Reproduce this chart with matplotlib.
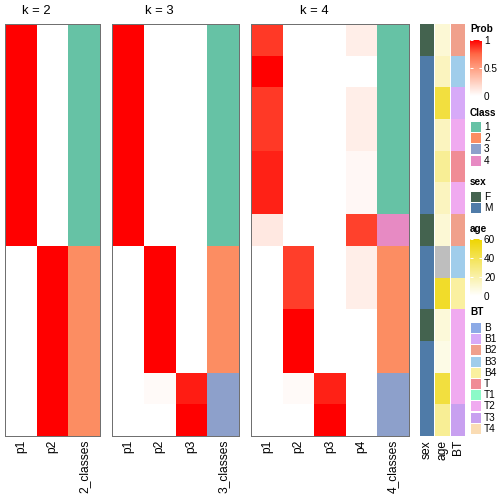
import matplotlib
matplotlib.use("Agg")
import matplotlib.pyplot as plt
import numpy as np
from matplotlib.colors import LinearSegmentedColormap, ListedColormap
from matplotlib.patches import Rectangle
from matplotlib.cm import ScalarMappable
from matplotlib.colors import Normalize

plt.rcParams['font.family'] = ['Liberation Sans', 'DejaVu Sans']

# membership probabilities per k (13 samples, top to bottom)
k2_p1 = [1, 1, 1, 1, 1, 1, 1, 0, 0, 0, 0, 0, 0]
k2_p2 = [0, 0, 0, 0, 0, 0, 0, 1, 1, 1, 1, 1, 1]
k2_class = [1, 1, 1, 1, 1, 1, 1, 2, 2, 2, 2, 2, 2]

k3_p1 = [1, 1, 1, 1, 1, 1, 1, 0, 0, 0, 0, 0, 0]
k3_p2 = [0, 0, 0, 0, 0, 0, 0, 1, 1, 1, 1, 0.03, 0]
k3_p3 = [0, 0, 0, 0, 0, 0, 0, 0, 0, 0, 0, 0.93, 1]
k3_class = [1, 1, 1, 1, 1, 1, 1, 2, 2, 2, 2, 3, 3]

k4_p1 = [0.86, 1, 0.86, 0.86, 0.92, 0.92, 0.12, 0, 0, 0, 0, 0, 0]
k4_p2 = [0, 0, 0, 0, 0, 0, 0, 0.85, 0.85, 1, 1, 0.03, 0]
k4_p3 = [0, 0, 0, 0, 0, 0, 0, 0, 0, 0, 0, 0.92, 1]
k4_p4 = [0.09, 0, 0.09, 0.09, 0.04, 0.04, 0.84, 0.09, 0.09, 0, 0, 0, 0]
k4_class = [1, 1, 1, 1, 1, 1, 4, 2, 2, 2, 2, 3, 3]

# sample annotations
sex = ['F', 'M', 'M', 'M', 'M', 'M', 'F', 'M', 'M', 'F', 'M', 'M', 'M']
age = [10, 15, 45, 15, 25, 15, 10, np.nan, 50, 9, 6, 45, 25]
bt = ['B2', 'B3', 'B1', 'T2', 'T', 'T2', 'B2', 'B3', 'B4', 'T2', 'T2', 'T2', 'T3']

sex_levels = ['F', 'M']
sex_colors = ['#44634F', '#4F7BA8']
bt_levels = ['B', 'B1', 'B2', 'B3', 'B4', 'T', 'T1', 'T2', 'T3', 'T4']
bt_colors = ['#8CAAE6', '#D7AAF8', '#F0A08C', '#A0CDEB', '#FAF0A0',
             '#F08C96', '#8CFAC8', '#F0AAF0', '#C8A0F0', '#FADCB4']
class_colors = ['#66C2A5', '#FC8D62', '#8DA0CB', '#E78AC3']

# white -> red ramp, stops roughly following a LAB interpolation
prob_cmap = LinearSegmentedColormap.from_list(
    'prob', [(0, '#FFFFFF'), (0.25, '#FFCFBF'), (0.5, '#FF9E81'), (0.75, '#FF6846'), (1, '#FF0000')])
age_cmap = LinearSegmentedColormap.from_list('age', ['#FFFFFF', '#EED500'])
age_cmap.set_bad('#BEBEBE')
class_cmap = ListedColormap(class_colors)

W = H = 504
fig = plt.figure(figsize=(7, 7), dpi=72)
TOP, BOT = 24, 436


def px_axes(x0, y0, x1, y1):
    return fig.add_axes([x0 / W, 1 - y1 / H, (x1 - x0) / W, (y1 - y0) / H])


def panel(x0, x1, probs, classes, title):
    k = len(probs)
    n = len(classes)
    ax = px_axes(x0, TOP, x1, BOT)
    mat = np.column_stack(probs)
    ax.pcolormesh(np.arange(k + 1), np.arange(n + 1), mat, cmap=prob_cmap, vmin=0, vmax=1)
    ax.pcolormesh([k, k + 1], np.arange(n + 1), np.array(classes)[:, None],
                  cmap=class_cmap, vmin=0.5, vmax=4.5)
    ax.set_xlim(0, k + 1)
    ax.set_ylim(n, 0)
    ax.set_yticks([])
    ax.set_xticks(np.arange(k + 1) + 0.5)
    ax.set_xticklabels([f'p{i + 1}' for i in range(k)] + [f'{k}_classes'],
                       rotation=90, fontsize=12, va='top')
    ax.tick_params(axis='x', length=0, pad=4)
    for s in ax.spines.values():
        s.set_color('#707070')
        s.set_linewidth(1)
    ax.text(k / 2, -0.41, title, ha='center', va='center', fontsize=13)
    return ax


panel(5, 100, [k2_p1, k2_p2], k2_class, 'k = 2')
panel(112, 239, [k3_p1, k3_p2, k3_p3], k3_class, 'k = 3')
panel(251, 409, [k4_p1, k4_p2, k4_p3, k4_p4], k4_class, 'k = 4')


def anno(x0, x1, values, cmap, vmin, vmax, name):
    n = len(values)
    ax = px_axes(x0, TOP, x1, BOT)
    ax.pcolormesh([0, 1], np.arange(n + 1), np.ma.masked_invalid(np.array(values, dtype=float))[:, None],
                  cmap=cmap, vmin=vmin, vmax=vmax)
    ax.set_xlim(0, 1)
    ax.set_ylim(n, 0)
    ax.set_yticks([])
    ax.set_xticks([0.5])
    ax.set_xticklabels([name], rotation=90, fontsize=12, va='top')
    ax.tick_params(axis='x', length=0, pad=4)
    for s in ax.spines.values():
        s.set_visible(False)


anno(420, 434, [sex_levels.index(s) for s in sex], ListedColormap(sex_colors), -0.5, 1.5, 'sex')
anno(435, 450, age, age_cmap, 0, 60, 'age')
anno(451, 465, [bt_levels.index(b) for b in bt], ListedColormap(bt_colors), -0.5, 9.5, 'BT')

# legends
lax = fig.add_axes([0, 0, 1, 1])
lax.set_xlim(0, W)
lax.set_ylim(H, 0)
lax.axis('off')
lax.patch.set_visible(False)


def colorbar(y_top, y_bot, cmap, vmin, vmax, ticks, labels):
    cax = px_axes(470, y_top, 482, y_bot)
    cb = fig.colorbar(ScalarMappable(Normalize(vmin, vmax), cmap), cax=cax)
    cb.outline.set_visible(False)
    cb.set_ticks(ticks)
    cb.set_ticklabels(labels)
    cax.tick_params(axis='y', direction='in', color='white', length=3, width=1,
                    left=True, right=True, labelsize=10, pad=2)


def title(y, text):
    lax.text(470, y, text, fontsize=10, fontweight='bold', va='center', ha='left')


def boxes(y0, labels, colors, step=11.2):
    for i, (lab, c) in enumerate(zip(labels, colors)):
        y = y0 + i * step
        lax.add_patch(Rectangle((470.5, y - 5), 10, 10, facecolor=c, edgecolor='none'))
        lax.text(484, y, lab, fontsize=10, va='center', ha='left')


title(29, 'Prob')
colorbar(40, 96, prob_cmap, 0, 1, [0, 0.5, 1], ['0', '0.5', '1'])
title(113, 'Class')
boxes(127, ['1', '2', '3', '4'], class_colors)
title(182, 'sex')
boxes(197, sex_levels, sex_colors)
title(229, 'age')
colorbar(239, 296, age_cmap, 0, 60, [0, 20, 40, 60], ['0', '20', '40', '60'])
title(312, 'BT')
boxes(328, bt_levels, bt_colors)

fig.savefig('out.png', dpi=72)
